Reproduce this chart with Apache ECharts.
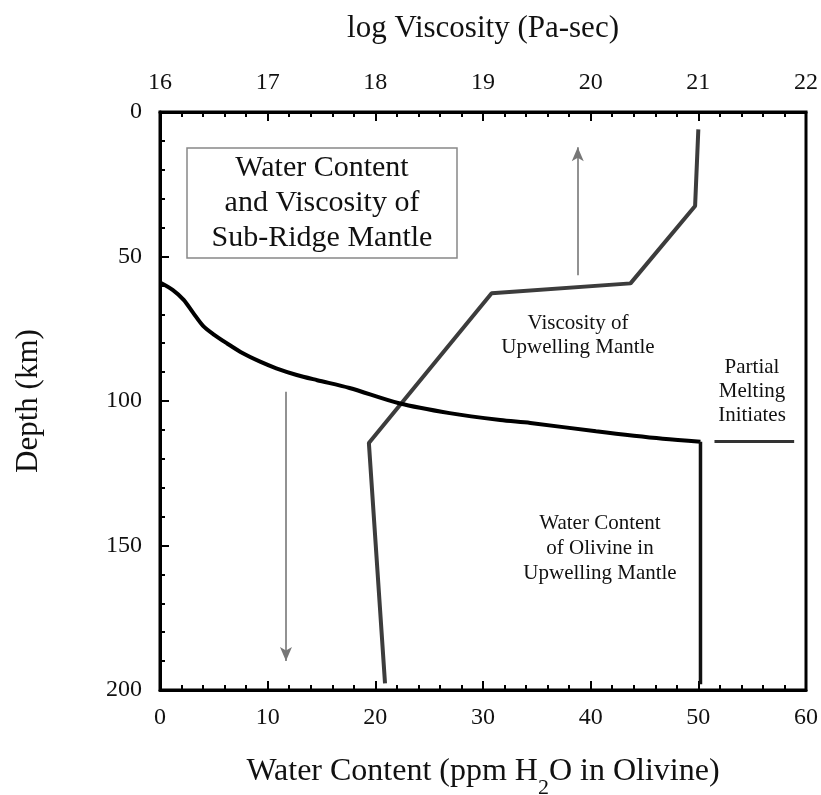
<!DOCTYPE html>
<html>
<head>
<meta charset="utf-8">
<script src="https://cdn.jsdelivr.net/npm/echarts@6/dist/echarts.min.js"></script>
<style>html,body{margin:0;padding:0;background:#fff}#c{width:821px;height:795px}</style>
</head>
<body>
<div id="c"></div>
<script>
// Water content of olivine (ppm H2O) vs depth (km) - curved part
const waterContent = [0, 1.2, 2.2, 3.1, 4.0, 5.0, 6.2, 7.7, 9.3, 10.8, 12.7, 14.6, 17.6, 22.2, 26.9, 31.6, 34.4, 40.5, 46.7, 50.2];
const waterDepth   = [59, 61.6, 65.0, 69.6, 74.0, 77.0, 80.0, 83.5, 86.4, 88.7, 91.0, 92.8, 95.5, 100.8, 104.2, 106.6, 107.6, 110.5, 113.1, 114.1];
// Water content below the onset of melting (constant)
const waterDeepContent = [50.2, 50.2];
const waterDeepDepth   = [114.1, 198];
// log viscosity (Pa-sec) vs depth (km)
const viscosity      = [21.0, 20.97, 20.37, 19.08, 17.94, 18.09];
const viscosityDepth = [6, 32.5, 59.3, 62.7, 114.5, 197.7];
// Partial melting marker (water axis units) at depth
const meltWater = [51.5, 58.9];
const meltDepth = [114, 114];
// Arrows (water axis units, depth)
const upArrow   = {x: 38.8, from: 56.5, to: 12.2};
const downArrow = {x: 11.7, from: 96.8, to: 190};

const waterTicks = [0, 10, 20, 30, 40, 50, 60];
const viscTicks = [16, 17, 18, 19, 20, 21, 22];
const depthTicks = [0, 50, 100, 150, 200];

const FONT = 'Liberation Serif';
const chart = echarts.init(document.getElementById('c'), null, {renderer: 'canvas'});

const tickCommon = {
  axisLine: {show: true, onZero: false, lineStyle: {color: '#000', width: 3}},
  axisTick: {show: true, inside: true, length: 9, lineStyle: {color: '#000', width: 2}},
  minorTick: {show: true, splitNumber: 5, length: 5, lineStyle: {color: '#000', width: 2}},
  splitLine: {show: false},
  axisLabel: {fontFamily: FONT, fontSize: 24, color: '#111'}
};

chart.setOption({
  animation: false,
  backgroundColor: '#fff',
  grid: {left: 160, right: 15, top: 112, bottom: 105, outerBoundsMode: 'none', containLabel: false,
         show: true, borderColor: '#000', borderWidth: 3},
  xAxis: [
    Object.assign({}, tickCommon, {
      type: 'value', position: 'bottom', min: waterTicks[0], max: waterTicks[waterTicks.length-1], interval: 10,
      name: '{m|Water Content (ppm H}{sub|2}{m|O in Olivine)}', nameLocation: 'middle', nameGap: 54,
      nameTextStyle: {fontFamily: FONT, fontSize: 32, color: '#111',
        rich: {
          m: {fontFamily: FONT, fontSize: 32, color: '#111', lineHeight: 44, verticalAlign: 'bottom'},
          sub: {fontFamily: FONT, fontSize: 22, color: '#111', lineHeight: 16, verticalAlign: 'bottom', padding: [0, 0, -11, 0]}
        }},
      axisLabel: Object.assign({}, tickCommon.axisLabel, {margin: 16})
    }),
    Object.assign({}, tickCommon, {
      type: 'value', position: 'top', min: viscTicks[0], max: viscTicks[viscTicks.length-1], interval: 1,
      name: 'log Viscosity (Pa-sec)', nameLocation: 'middle', nameGap: 68,
      nameTextStyle: {fontFamily: FONT, fontSize: 31, color: '#111'},
      axisLabel: Object.assign({}, tickCommon.axisLabel, {margin: 17})
    })
  ],
  yAxis: [
    Object.assign({}, tickCommon, {
      type: 'value', inverse: true, min: depthTicks[0], max: depthTicks[depthTicks.length-1], interval: 50,
      name: 'Depth (km)', nameLocation: 'middle', nameGap: 116, nameRotate: 90,
      nameTextStyle: {fontFamily: FONT, fontSize: 31, color: '#111'},
      axisLabel: Object.assign({}, tickCommon.axisLabel, {margin: 18})
    })
  ],
  series: [
    {
      type: 'line', xAxisIndex: 0, yAxisIndex: 0, symbol: 'none', smooth: 0.3,
      data: waterContent.map((w, i) => [w, waterDepth[i]]),
      lineStyle: {color: '#000', width: 4}, z: 3,
      markLine: {
        silent: true, symbol: ['none', 'arrow'], symbolSize: [9, 14], label: {show: false},
        lineStyle: {color: '#777', width: 1.6, type: 'solid'},
        data: [
          [{coord: [upArrow.x, upArrow.from]}, {coord: [upArrow.x, upArrow.to], itemStyle: {color: '#222'}}],
          [{coord: [downArrow.x, downArrow.from]}, {coord: [downArrow.x, downArrow.to], itemStyle: {color: '#222'}}]
        ]
      }
    },
    {
      type: 'line', xAxisIndex: 0, yAxisIndex: 0, symbol: 'none',
      data: waterDeepContent.map((w, i) => [w, waterDeepDepth[i]]),
      lineStyle: {color: '#111', width: 3.5}, z: 3
    },
    {
      type: 'line', xAxisIndex: 1, yAxisIndex: 0, symbol: 'none',
      data: viscosity.map((v, i) => [v, viscosityDepth[i]]),
      lineStyle: {color: '#3c3c3c', width: 4}, z: 2
    },
    {
      type: 'line', xAxisIndex: 0, yAxisIndex: 0, symbol: 'none',
      data: meltWater.map((w, i) => [w, meltDepth[i]]),
      lineStyle: {color: '#333', width: 3}
    }
  ],
  graphic: [
    {type: 'rect', shape: {x: 187, y: 148, width: 270, height: 110}, style: {fill: '#fff', stroke: '#888', lineWidth: 1.5}, z: 10},
    {type: 'text', x: 322, y: 203, z: 11, style: {text: 'Water Content\nand Viscosity of\nSub-Ridge Mantle', fontFamily: FONT, fontSize: 30, lineHeight: 35, fill: '#111', align: 'center', verticalAlign: 'middle'}},
    {type: 'text', x: 578, y: 335, style: {text: 'Viscosity of\nUpwelling Mantle', fontFamily: FONT, fontSize: 21, lineHeight: 24, fill: '#111', align: 'center', verticalAlign: 'middle'}},
    {type: 'text', x: 600, y: 548, style: {text: 'Water Content\nof Olivine in\nUpwelling Mantle', fontFamily: FONT, fontSize: 21, lineHeight: 25, fill: '#111', align: 'center', verticalAlign: 'middle'}},
    {type: 'text', x: 752, y: 391, style: {text: 'Partial\nMelting\nInitiates', fontFamily: FONT, fontSize: 21, lineHeight: 24, fill: '#111', align: 'center', verticalAlign: 'middle'}}
  ]
});
</script>
</body>
</html>
